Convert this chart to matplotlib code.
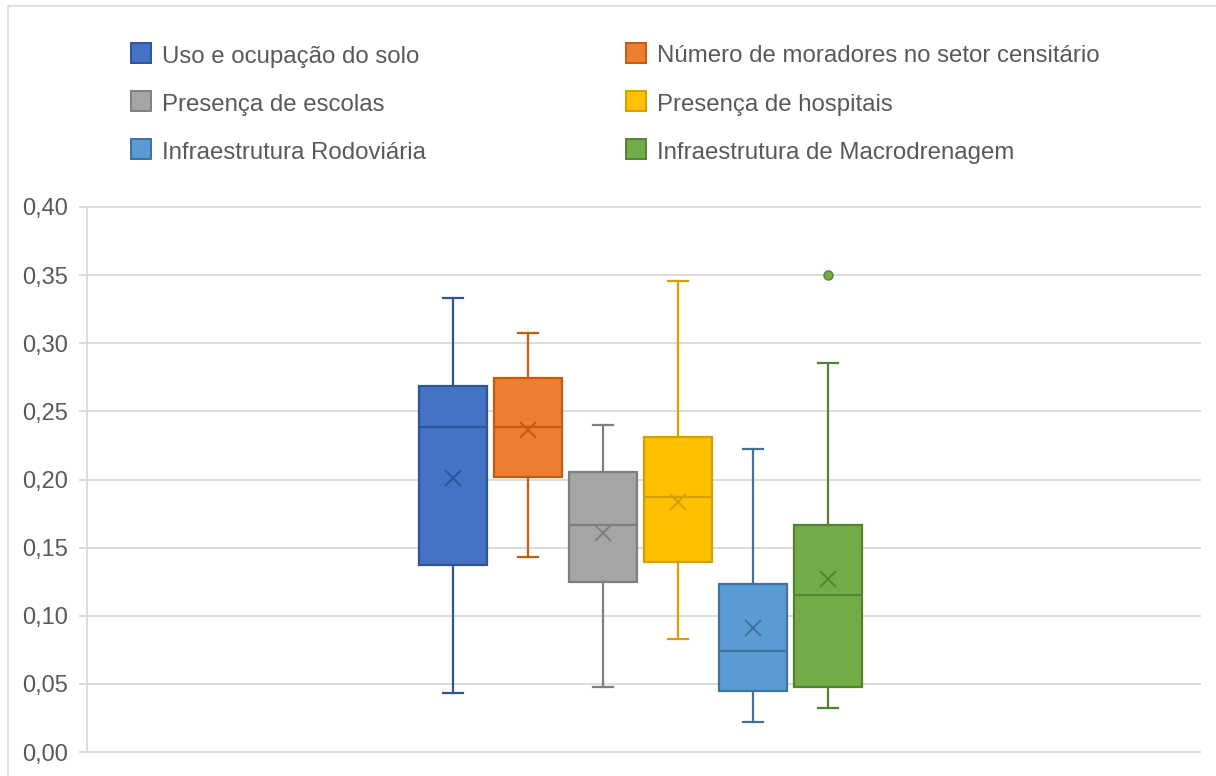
import matplotlib
matplotlib.use("Agg")
import matplotlib.pyplot as plt
from matplotlib.patches import Rectangle
from matplotlib.ticker import MultipleLocator, FuncFormatter

plt.rcParams['font.family'] = ['Liberation Sans', 'DejaVu Sans']

# Indicator names (legend order follows the series order)
series = [
    "Uso e ocupação do solo",
    "Número de moradores no setor censitário",
    "Presença de escolas",
    "Presença de hospitais",
    "Infraestrutura Rodoviária",
    "Infraestrutura de Macrodrenagem",
]

# Box statistics per indicator
whisker_low = [0.0434, 0.1429, 0.0476, 0.0833, 0.0222, 0.0324]
q1          = [0.1370, 0.2018, 0.1248, 0.1395, 0.0446, 0.0476]
medians     = [0.2382, 0.2382, 0.1669, 0.1874, 0.0742, 0.1155]
means       = [0.2010, 0.2360, 0.1610, 0.1835, 0.0911, 0.1268]
q3          = [0.2685, 0.2746, 0.2052, 0.2309, 0.1231, 0.1669]
whisker_high = [0.3333, 0.3078, 0.2399, 0.3460, 0.2221, 0.2856]
outliers    = [[], [], [], [], [], [0.350]]

fills = ["#4472C4", "#ED7D31", "#A5A5A5", "#FFC000", "#5B9BD5", "#70AD47"]
edges = ["#2F5597", "#C55A11", "#7F7F7F", "#D4A000", "#41719C", "#548235"]

W, H = 1216, 776
fig = plt.figure(figsize=(W / 100, H / 100), dpi=100)

# chart frame
fig.add_artist(Rectangle((7.5 / W, -0.5), 2.0, 1.5 - 5.5 / H,
                         transform=fig.transFigure, facecolor="none",
                         edgecolor="#D9D9D9", linewidth=1.2))

ax = fig.add_axes([87 / W, 1 - 752 / H, (1200 - 87) / W, (752 - 207) / H])

positions = list(range(len(series)))
box_w = 0.908
for i in positions:
    stats = [dict(med=medians[i], q1=q1[i], q3=q3[i],
                  whislo=whisker_low[i], whishi=whisker_high[i],
                  mean=means[i], fliers=outliers[i], label=series[i])]
    ax.bxp(stats, positions=[i], widths=box_w, patch_artist=True,
           showmeans=True, meanline=False, shownotches=False,
           capwidths=box_w * 0.3,
           boxprops=dict(facecolor=fills[i], edgecolor=edges[i], linewidth=1.6),
           medianprops=dict(color=edges[i], linewidth=1.6),
           whiskerprops=dict(color=edges[i], linewidth=1.6),
           capprops=dict(color=edges[i], linewidth=1.6),
           meanprops=dict(marker="x", markersize=12, markeredgecolor=edges[i],
                          markeredgewidth=1.4, markerfacecolor="none"),
           flierprops=dict(marker="o", markersize=6.5, markerfacecolor=fills[i],
                           markeredgecolor=edges[i], markeredgewidth=1.0))

ax.set_xlim(2.54 - 7.43, 2.54 + 7.43)
ax.set_ylim(0, 0.40)
ax.yaxis.set_major_locator(MultipleLocator(0.05))
ax.yaxis.set_major_formatter(FuncFormatter(lambda v, p: f"{v:.2f}".replace(".", ",")))
ax.set_xticks([])
ax.set_axisbelow(True)
ax.grid(axis="y", color="#D9D9D9", linewidth=1.3)
for gl in ax.get_ygridlines():
    gl.set_clip_on(False)
for side in ["top", "right", "bottom"]:
    ax.spines[side].set_visible(False)
ax.spines["left"].set_color("#D9D9D9")
ax.spines["left"].set_linewidth(1.3)
ax.tick_params(axis="y", length=6, width=1.3, color="#D9D9D9", pad=8,
               labelsize=17, labelcolor="#595959")
ax.patch.set_alpha(0)

# legend in two columns
col_x = [131, 626]
row_y = [53, 101.3, 149.3]
sq = 20
for i, name in enumerate(series):
    c, r = i % 2, i // 2
    x0, yc = col_x[c], row_y[r]
    fig.add_artist(Rectangle((x0 / W, 1 - (yc + sq / 2) / H), sq / W, sq / H,
                             transform=fig.transFigure, facecolor=fills[i],
                             edgecolor=edges[i], linewidth=1.4))
    fig.text((x0 + 31) / W, 1 - (yc + 9.5) / H, name, fontsize=17.25,
             color="#595959", ha="left", va="baseline")

fig.savefig("out.png", dpi=100)
